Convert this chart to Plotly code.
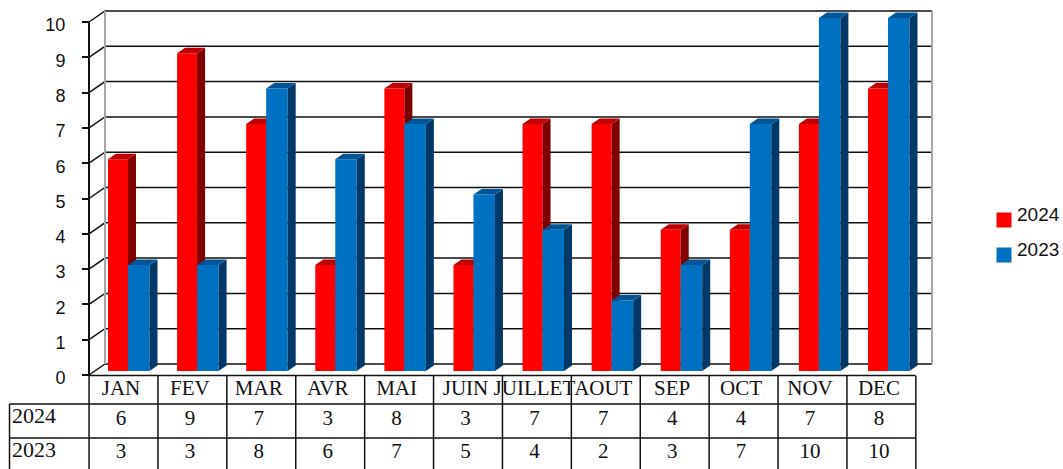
import plotly.graph_objects as go

# Monthly counts per year
months = ["JAN", "FEV", "MAR", "AVR", "MAI", "JUIN", "JUILLET", "AOUT", "SEP", "OCT", "NOV", "DEC"]
values_2024 = [6, 9, 7, 3, 8, 3, 7, 7, 4, 4, 7, 8]
values_2023 = [3, 3, 8, 6, 7, 5, 4, 2, 3, 7, 10, 10]
series_names = ["2024", "2023"]
y_ticks = list(range(11))

WIDTH, HEIGHT = 1063, 469

# Scale: one category is 68.9 px wide, one value unit is 35.3 px tall
CAT_PX, UNIT_PX = 68.9, 35.3
FIRST_CAT_PX, ZERO_PX = 123.5, 375.0


def X(px):
    return (px - FIRST_CAT_PX) / CAT_PX


def Y(px):
    return (ZERO_PX - px) / UNIT_PX


x_range = [X(0), X(WIDTH)]
y_range = [Y(HEIGHT), Y(0)]

# Depth of the back wall and of each bar, in axis units
WALL_DX, WALL_DY = 16 / CAT_PX, 11 / UNIT_PX
BAR_DX, BAR_DY = 8 / CAT_PX, 5.5 / UNIT_PX
BAR_BASE = Y(371)
BAR_STEP = 69.09 / CAT_PX  # bar groups run slightly wider than the table columns

RED, RED_SIDE, RED_TOP = "#ff0000", "#800000", "#c00000"
BLUE, BLUE_SIDE, BLUE_TOP = "#0070c0", "#00386a", "#005596"
INK = "#111111"
WALL = "#a6a6a6"
TABLE_FONT = "Liberation Serif"
LABEL_SHIFT = 2.5 / CAT_PX


def line(xs, ys, color=INK, width=1.5, axes=("x", "y")):
    return go.Scatter(x=xs, y=ys, mode="lines", line=dict(color=color, width=width),
                      xaxis=axes[0], yaxis=axes[1], hoverinfo="skip", showlegend=False)


def polygons(faces, color, axes):
    xs, ys = [], []
    for fx, fy in faces:
        xs += fx + [fx[0], None]
        ys += fy + [fy[0], None]
    return go.Scatter(x=xs, y=ys, mode="lines", fill="toself", fillcolor=color,
                      line=dict(width=0), xaxis=axes[0], yaxis=axes[1],
                      hoverinfo="skip", showlegend=False)


def bar_series(values, left_px, width_px, front, side, top, name, axes):
    offset = X(left_px)
    width = width_px / CAT_PX
    centers = [i * BAR_STEP for i in range(len(values))]
    side_faces, top_faces = [], []
    for c, v in zip(centers, values):
        l, r = c + offset, c + offset + width
        h = BAR_BASE + v
        side_faces.append(([r, r + BAR_DX, r + BAR_DX, r],
                           [BAR_BASE, BAR_BASE + BAR_DY, h + BAR_DY, h]))
        top_faces.append(([l, l + BAR_DX, r + BAR_DX, r],
                          [h, h + BAR_DY, h + BAR_DY, h]))
    return [
        go.Bar(x=centers, y=values, base=BAR_BASE, offset=offset, width=width,
               marker=dict(color=front, line=dict(width=0)), name=name,
               xaxis=axes[0], yaxis=axes[1]),
        polygons(side_faces, side, axes),
        polygons(top_faces, top, axes),
    ]


def text_row(xs, ys, labels, size, family, position="middle center"):
    return go.Scatter(x=xs, y=ys, mode="text", text=labels, textposition=position,
                      textfont=dict(family=family, size=size, color=INK),
                      hoverinfo="skip", showlegend=False)


fig = go.Figure()

# Back wall, side walls and value gridlines
wall_left, wall_right = X(105), X(932)
front_left = X(89)
for v in y_ticks:
    fig.add_trace(line([front_left, wall_left, wall_right], [v, v + WALL_DY, v + WALL_DY]))
fig.add_trace(line([wall_left, wall_left], [WALL_DY, 10 + WALL_DY], WALL, 2))
fig.add_trace(line([wall_right, wall_right], [WALL_DY, 10 + WALL_DY], WALL, 2))
fig.add_trace(line([front_left, front_left], [0, 10], INK, 2))

# Data table underneath the plot
table_right = X(915.5)
row_tops = [Y(375.5), Y(404), Y(438)]
table_bottom = Y(HEIGHT + 2)
label_left = X(9.5)
fig.add_trace(line([front_left, table_right], [row_tops[0]] * 2))
for row in row_tops[1:]:
    fig.add_trace(line([label_left, table_right], [row, row]))
fig.add_trace(line([label_left, label_left], [row_tops[1], table_bottom]))
for i in range(13):
    fig.add_trace(line([i - 0.5, i - 0.5], [row_tops[0], table_bottom]))

cats = [i - LABEL_SHIFT for i in range(12)]
fig.add_trace(text_row(cats, [Y(390)] * 12, months, 21, TABLE_FONT))
fig.add_trace(text_row(cats, [Y(420)] * 12, [str(v) for v in values_2024], 21, TABLE_FONT))
fig.add_trace(text_row(cats, [Y(453)] * 12, [str(v) for v in values_2023], 21, TABLE_FONT))
fig.add_trace(text_row([X(12)] * 2, [Y(417), Y(451)], series_names, 22, TABLE_FONT, "middle right"))

# Red bars sit on one overlay, blue bars on a later one so they hide the red side faces
fig.add_traces(bar_series(values_2024, 108, 20, RED, RED_SIDE, RED_TOP, series_names[0], ("x2", "y2")))
fig.add_traces(bar_series(values_2023, 128, 21.5, BLUE, BLUE_SIDE, BLUE_TOP, series_names[1], ("x3", "y3")))

# Key on the right
for name, color, py in zip(series_names, [RED, BLUE], [220, 255]):
    fig.add_trace(go.Scatter(x=[X(1004)], y=[Y(py)], mode="markers",
                             marker=dict(symbol="square", size=15, color=color, line=dict(width=0)),
                             hoverinfo="skip", showlegend=False))
    fig.add_trace(text_row([X(1017)], [Y(py - 4)], [name], 19, "Liberation Sans", "middle right"))

fig.update_layout(
    width=WIDTH, height=HEIGHT,
    margin=dict(l=0, r=0, t=0, b=0),
    paper_bgcolor="white", plot_bgcolor="white",
    showlegend=False,
    barmode="overlay",
    xaxis=dict(domain=[0, 1], range=x_range, visible=False),
    yaxis=dict(domain=[0, 1], range=y_range, anchor="free", position=89 / WIDTH, side="left",
               tickmode="array", tickvals=y_ticks, ticktext=[str(v) for v in y_ticks],
               ticks="outside", ticklen=7, tickwidth=1.5, tickcolor=INK,
               showgrid=False, zeroline=False, showline=False,
               ticklabelstandoff=13, ticklabelshift=3,
               tickfont=dict(family="Liberation Sans", size=18, color=INK)),
    xaxis2=dict(overlaying="x", range=x_range, visible=False),
    yaxis2=dict(overlaying="y", range=y_range, visible=False),
    xaxis3=dict(overlaying="x", range=x_range, visible=False),
    yaxis3=dict(overlaying="y", range=y_range, visible=False),
)

fig.write_html("out.html")
